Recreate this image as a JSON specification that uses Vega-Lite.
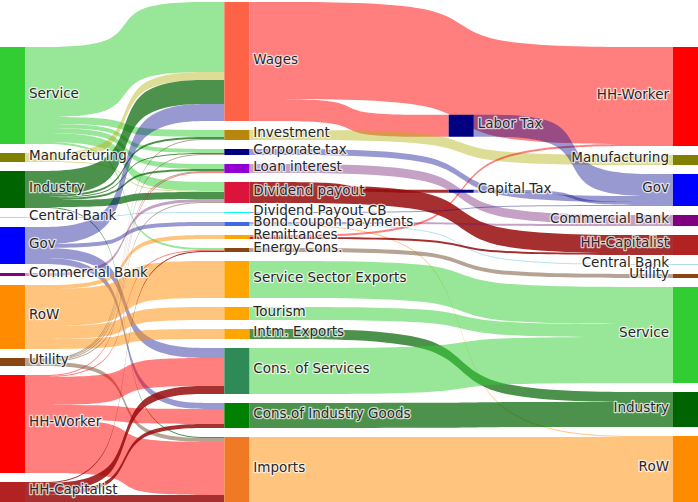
{
  "$schema": "https://vega.github.io/schema/vega-lite/v6.json",
  "width": 698,
  "height": 502,
  "padding": 0,
  "autosize": {"type": "none"},
  "config": {"view": {"stroke": null}},
  "data": {
    "values": [
      {"kind": "node", "id": "Service_0", "label": "Service", "stage": 0, "order": 0},
      {"kind": "node", "id": "Manufacturing_0", "label": "Manufacturing", "stage": 0, "order": 1},
      {"kind": "node", "id": "Industry_0", "label": "Industry", "stage": 0, "order": 2},
      {"kind": "node", "id": "Central Bank_0", "label": "Central Bank", "stage": 0, "order": 3},
      {"kind": "node", "id": "Gov_0", "label": "Gov", "stage": 0, "order": 4},
      {"kind": "node", "id": "Commercial Bank_0", "label": "Commercial Bank", "stage": 0, "order": 5},
      {"kind": "node", "id": "RoW_0", "label": "RoW", "stage": 0, "order": 6},
      {"kind": "node", "id": "Utility_0", "label": "Utility", "stage": 0, "order": 7},
      {"kind": "node", "id": "HH-Worker_0", "label": "HH-Worker", "stage": 0, "order": 8},
      {"kind": "node", "id": "HH-Capitalist_0", "label": "HH-Capitalist", "stage": 0, "order": 9},
      {"kind": "node", "id": "Wages", "label": "Wages", "stage": 1, "order": 0},
      {"kind": "node", "id": "Investment", "label": "Investment", "stage": 1, "order": 1},
      {"kind": "node", "id": "Corporate tax", "label": "Corporate tax", "stage": 1, "order": 2},
      {"kind": "node", "id": "Loan interest", "label": "Loan interest", "stage": 1, "order": 3},
      {"kind": "node", "id": "Dividend payout", "label": "Dividend payout", "stage": 1, "order": 4},
      {"kind": "node", "id": "Dividend Payout CB", "label": "Dividend Payout CB", "stage": 1, "order": 5},
      {"kind": "node", "id": "Bond coupon payments", "label": "Bond coupon payments", "stage": 1, "order": 6},
      {"kind": "node", "id": "Remittances", "label": "Remittances", "stage": 1, "order": 7},
      {"kind": "node", "id": "Energy Cons.", "label": "Energy Cons.", "stage": 1, "order": 8},
      {"kind": "node", "id": "Service Sector Exports", "label": "Service Sector Exports", "stage": 1, "order": 9},
      {"kind": "node", "id": "Tourism", "label": "Tourism", "stage": 1, "order": 10},
      {"kind": "node", "id": "Intm. Exports", "label": "Intm. Exports", "stage": 1, "order": 11},
      {"kind": "node", "id": "Cons. of Services", "label": "Cons. of Services", "stage": 1, "order": 12},
      {"kind": "node", "id": "Cons.of Industry Goods", "label": "Cons.of Industry Goods", "stage": 1, "order": 13},
      {"kind": "node", "id": "Imports", "label": "Imports", "stage": 1, "order": 14},
      {"kind": "node", "id": "Labor Tax", "label": "Labor Tax", "stage": 2, "order": 0},
      {"kind": "node", "id": "Capital Tax", "label": "Capital Tax", "stage": 2, "order": 1},
      {"kind": "node", "id": "HH-Worker_3", "label": "HH-Worker", "stage": 3, "order": 0},
      {"kind": "node", "id": "Manufacturing_3", "label": "Manufacturing", "stage": 3, "order": 1},
      {"kind": "node", "id": "Gov_3", "label": "Gov", "stage": 3, "order": 2},
      {"kind": "node", "id": "Commercial Bank_3", "label": "Commercial Bank", "stage": 3, "order": 3},
      {"kind": "node", "id": "HH-Capitalist_3", "label": "HH-Capitalist", "stage": 3, "order": 4},
      {"kind": "node", "id": "Central Bank_3", "label": "Central Bank", "stage": 3, "order": 5},
      {"kind": "node", "id": "Utility_3", "label": "Utility", "stage": 3, "order": 6},
      {"kind": "node", "id": "Service_3", "label": "Service", "stage": 3, "order": 7},
      {"kind": "node", "id": "Industry_3", "label": "Industry", "stage": 3, "order": 8},
      {"kind": "node", "id": "RoW_3", "label": "RoW", "stage": 3, "order": 9},

      {"kind": "link", "source": "Service_0", "target": "Wages", "value": 70, "agent": "Service"},
      {"kind": "link", "source": "Service_0", "target": "Investment", "value": 7, "agent": "Service"},
      {"kind": "link", "source": "Service_0", "target": "Corporate tax", "value": 4, "agent": "Service"},
      {"kind": "link", "source": "Service_0", "target": "Loan interest", "value": 5, "agent": "Service"},
      {"kind": "link", "source": "Service_0", "target": "Dividend payout", "value": 9, "agent": "Service"},
      {"kind": "link", "source": "Service_0", "target": "Energy Cons.", "value": 2, "agent": "Service"},
      {"kind": "link", "source": "Manufacturing_0", "target": "Wages", "value": 8, "agent": "Manufacturing"},
      {"kind": "link", "source": "Manufacturing_0", "target": "Dividend payout", "value": 1, "agent": "Manufacturing"},
      {"kind": "link", "source": "Industry_0", "target": "Wages", "value": 24, "agent": "Industry"},
      {"kind": "link", "source": "Industry_0", "target": "Investment", "value": 2, "agent": "Industry"},
      {"kind": "link", "source": "Industry_0", "target": "Corporate tax", "value": 1, "agent": "Industry"},
      {"kind": "link", "source": "Industry_0", "target": "Loan interest", "value": 2, "agent": "Industry"},
      {"kind": "link", "source": "Industry_0", "target": "Dividend payout", "value": 7, "agent": "Industry"},
      {"kind": "link", "source": "Industry_0", "target": "Imports", "value": 1, "agent": "Industry"},
      {"kind": "link", "source": "Central Bank_0", "target": "Dividend Payout CB", "value": 1, "agent": "Central Bank"},
      {"kind": "link", "source": "Gov_0", "target": "Wages", "value": 17, "agent": "Gov"},
      {"kind": "link", "source": "Gov_0", "target": "Bond coupon payments", "value": 4, "agent": "Gov"},
      {"kind": "link", "source": "Gov_0", "target": "Cons. of Services", "value": 10, "agent": "Gov"},
      {"kind": "link", "source": "Gov_0", "target": "Cons.of Industry Goods", "value": 6, "agent": "Gov"},
      {"kind": "link", "source": "Commercial Bank_0", "target": "Dividend payout", "value": 3, "agent": "Commercial Bank"},
      {"kind": "link", "source": "RoW_0", "target": "Remittances", "value": 4, "agent": "RoW"},
      {"kind": "link", "source": "RoW_0", "target": "Service Sector Exports", "value": 37, "agent": "RoW"},
      {"kind": "link", "source": "RoW_0", "target": "Tourism", "value": 13, "agent": "RoW"},
      {"kind": "link", "source": "RoW_0", "target": "Intm. Exports", "value": 10, "agent": "RoW"},
      {"kind": "link", "source": "Utility_0", "target": "Investment", "value": 1, "agent": "Utility"},
      {"kind": "link", "source": "Utility_0", "target": "Corporate tax", "value": 1, "agent": "Utility"},
      {"kind": "link", "source": "Utility_0", "target": "Loan interest", "value": 1, "agent": "Utility"},
      {"kind": "link", "source": "Utility_0", "target": "Dividend payout", "value": 1, "agent": "Utility"},
      {"kind": "link", "source": "Utility_0", "target": "Imports", "value": 4, "agent": "Utility"},
      {"kind": "link", "source": "HH-Worker_0", "target": "Loan interest", "value": 1, "agent": "HH-Worker"},
      {"kind": "link", "source": "HH-Worker_0", "target": "Energy Cons.", "value": 1, "agent": "HH-Worker"},
      {"kind": "link", "source": "HH-Worker_0", "target": "Cons. of Services", "value": 28, "agent": "HH-Worker"},
      {"kind": "link", "source": "HH-Worker_0", "target": "Cons.of Industry Goods", "value": 15, "agent": "HH-Worker"},
      {"kind": "link", "source": "HH-Worker_0", "target": "Imports", "value": 53, "agent": "HH-Worker"},
      {"kind": "link", "source": "HH-Capitalist_0", "target": "Energy Cons.", "value": 1, "agent": "HH-Capitalist"},
      {"kind": "link", "source": "HH-Capitalist_0", "target": "Cons. of Services", "value": 8, "agent": "HH-Capitalist"},
      {"kind": "link", "source": "HH-Capitalist_0", "target": "Cons.of Industry Goods", "value": 4, "agent": "HH-Capitalist"},
      {"kind": "link", "source": "HH-Capitalist_0", "target": "Imports", "value": 7, "agent": "HH-Capitalist"},

      {"kind": "link", "source": "Wages", "target": "HH-Worker_3", "value": 97, "agent": "HH-Worker"},
      {"kind": "link", "source": "Wages", "target": "Labor Tax", "value": 22, "agent": "HH-Worker"},
      {"kind": "link", "source": "Investment", "target": "Manufacturing_3", "value": 10, "agent": "Manufacturing"},
      {"kind": "link", "source": "Corporate tax", "target": "Gov_3", "value": 6, "agent": "Gov"},
      {"kind": "link", "source": "Loan interest", "target": "Commercial Bank_3", "value": 9, "agent": "Commercial Bank"},
      {"kind": "link", "source": "Dividend payout", "target": "Capital Tax", "value": 3, "agent": "HH-Capitalist"},
      {"kind": "link", "source": "Dividend payout", "target": "HH-Capitalist_3", "value": 18, "agent": "HH-Capitalist"},
      {"kind": "link", "source": "Dividend Payout CB", "target": "Gov_3", "value": 1, "agent": "Gov"},
      {"kind": "link", "source": "Bond coupon payments", "target": "Commercial Bank_3", "value": 2, "agent": "Commercial Bank"},
      {"kind": "link", "source": "Bond coupon payments", "target": "Central Bank_3", "value": 1, "agent": "Central Bank"},
      {"kind": "link", "source": "Bond coupon payments", "target": "RoW_3", "value": 1, "agent": "RoW"},
      {"kind": "link", "source": "Remittances", "target": "HH-Worker_3", "value": 2, "agent": "HH-Worker"},
      {"kind": "link", "source": "Remittances", "target": "HH-Capitalist_3", "value": 2, "agent": "HH-Capitalist"},
      {"kind": "link", "source": "Energy Cons.", "target": "Utility_3", "value": 4, "agent": "Utility"},
      {"kind": "link", "source": "Service Sector Exports", "target": "Service_3", "value": 37, "agent": "Service"},
      {"kind": "link", "source": "Tourism", "target": "Service_3", "value": 13, "agent": "Service"},
      {"kind": "link", "source": "Intm. Exports", "target": "Industry_3", "value": 10, "agent": "Industry"},
      {"kind": "link", "source": "Cons. of Services", "target": "Service_3", "value": 46, "agent": "Service"},
      {"kind": "link", "source": "Cons.of Industry Goods", "target": "Industry_3", "value": 25, "agent": "Industry"},
      {"kind": "link", "source": "Imports", "target": "RoW_3", "value": 65, "agent": "RoW"},
      {"kind": "link", "source": "Labor Tax", "target": "Gov_3", "value": 22, "agent": "Gov"},
      {"kind": "link", "source": "Capital Tax", "target": "Gov_3", "value": 3, "agent": "Gov"}
    ]
  },
  "transform": [
    {"calculate": "datum.kind === 'node' ? datum.id : datum.source", "as": "sKey"},
    {"calculate": "datum.kind === 'node' ? datum.id : datum.target", "as": "tKey"},
    {"joinaggregate": [{"op": "sum", "field": "value", "as": "outSum"}], "groupby": ["sKey"]},
    {"joinaggregate": [{"op": "sum", "field": "value", "as": "inSum"}], "groupby": ["tKey"]},
    {"calculate": "datum.kind === 'node' ? max(datum.outSum || 0, datum.inSum || 0) : null", "as": "total"},
    {"window": [{"op": "sum", "field": "total", "as": "cumBelow"}, {"op": "row_number", "as": "rn"}], "groupby": ["stage"], "sort": [{"field": "order", "order": "descending"}], "ignorePeers": true},
    {"calculate": "datum.kind === 'node' && datum.stage !== 2 ? 502 - datum.cumBelow - 9 * (datum.rn - 1) : null", "as": "top0"},
    {"joinaggregate": [{"op": "max", "field": "top0", "as": "sTop0"}, {"op": "max", "field": "total", "as": "sTotal"}, {"op": "max", "field": "stage", "as": "sStage"}], "groupby": ["sKey"]},
    {"joinaggregate": [{"op": "max", "field": "top0", "as": "tTop0"}, {"op": "max", "field": "total", "as": "tTotal"}, {"op": "max", "field": "stage", "as": "tStage"}], "groupby": ["tKey"]},
    {"calculate": "datum.kind === 'link' && isValid(datum.sTop0) ? datum.sTop0 + datum.sTotal / 2 : null", "as": "sC"},
    {"calculate": "datum.kind === 'link' && isValid(datum.tTop0) ? datum.tTop0 + datum.tTotal / 2 : null", "as": "tC"},
    {"joinaggregate": [{"op": "mean", "field": "sC", "as": "inMean"}], "groupby": ["tKey"]},
    {"joinaggregate": [{"op": "mean", "field": "tC", "as": "outMean"}], "groupby": ["sKey"]},
    {"calculate": "datum.kind === 'node' ? (datum.stage === 2 ? (datum.inMean + datum.outMean) / 2 - datum.total / 2 : datum.top0) : null", "as": "top"},
    {"joinaggregate": [{"op": "max", "field": "top", "as": "sTop"}], "groupby": ["sKey"]},
    {"joinaggregate": [{"op": "max", "field": "top", "as": "tTop"}], "groupby": ["tKey"]},
    {"window": [{"op": "sum", "field": "value", "as": "sCum"}], "groupby": ["source"], "sort": [{"field": "tTop", "order": "ascending"}], "ignorePeers": true},
    {"window": [{"op": "sum", "field": "value", "as": "tCum"}], "groupby": ["target"], "sort": [{"field": "sTop", "order": "ascending"}], "ignorePeers": true}
  ],
  "layer": [
    {
      "transform": [
        {"filter": "datum.kind === 'link'"},
        {"calculate": "datum.sStage + 0.1114", "as": "px0"},
        {"calculate": "datum.tStage", "as": "px3"},
        {"calculate": "(datum.px0 + datum.px3) / 2 - 0.0005", "as": "px1"},
        {"calculate": "(datum.px0 + datum.px3) / 2 + 0.0005", "as": "px2"},
        {"fold": ["px0", "px1", "px2", "px3"], "as": ["pt", "px"]},
        {"calculate": "(datum.pt === 'px0' || datum.pt === 'px1') ? datum.sTop + datum.sCum - datum.value : datum.tTop + datum.tCum - datum.value", "as": "ylo"},
        {"calculate": "datum.ylo + datum.value", "as": "yhi"}
      ],
      "mark": {"type": "area", "interpolate": "basis", "opacity": 1},
      "encoding": {
        "x": {"field": "px", "type": "quantitative", "scale": {"domain": [0, 3.1114], "nice": false, "zero": false}, "axis": null},
        "y": {"field": "ylo", "type": "quantitative", "scale": {"domain": [0, 502], "reverse": true, "nice": false, "zero": false}, "axis": null},
        "y2": {"field": "yhi"},
        "color": {
          "field": "agent", "type": "nominal", "legend": null,
          "scale": {
            "domain": ["Service", "Manufacturing", "Industry", "Central Bank", "Gov", "Commercial Bank", "RoW", "Utility", "HH-Worker", "HH-Capitalist"],
            "range": ["rgba(50,205,50,0.5)", "rgba(180,180,20,0.45)", "rgba(0,100,0,0.7)", "rgba(135,206,235,0.6)", "rgba(0,0,139,0.4)", "rgba(110,20,110,0.4)", "rgba(255,140,0,0.5)", "rgba(120,90,60,0.55)", "rgba(255,0,0,0.5)", "rgba(150,10,10,0.85)"]
          }
        },
        "detail": [{"field": "source", "type": "nominal"}, {"field": "target", "type": "nominal"}]
      }
    },
    {
      "transform": [
        {"filter": "datum.kind === 'node'"},
        {"calculate": "datum.stage + 0.1114", "as": "xr"},
        {"calculate": "datum.top + datum.total", "as": "bottom"}
      ],
      "mark": {"type": "rect"},
      "encoding": {
        "x": {"field": "stage", "type": "quantitative", "scale": {"domain": [0, 3.1114], "nice": false, "zero": false}, "axis": null},
        "x2": {"field": "xr"},
        "y": {"field": "top", "type": "quantitative", "scale": {"domain": [0, 502], "reverse": true, "nice": false, "zero": false}, "axis": null},
        "y2": {"field": "bottom"},
        "color": {
          "field": "label", "type": "nominal", "legend": null,
          "scale": {
            "domain": ["Service", "Manufacturing", "Industry", "Central Bank", "Gov", "Commercial Bank", "RoW", "Utility", "HH-Worker", "HH-Capitalist", "Wages", "Investment", "Corporate tax", "Loan interest", "Dividend payout", "Dividend Payout CB", "Bond coupon payments", "Remittances", "Energy Cons.", "Service Sector Exports", "Tourism", "Intm. Exports", "Cons. of Services", "Cons.of Industry Goods", "Imports", "Labor Tax", "Capital Tax"],
            "range": ["#32CD32", "#808000", "#006400", "#ADD8E6", "#0000FF", "#800080", "#FF8C00", "#8B4513", "#FF0000", "#B22222", "#FF6347", "#B8860B", "#000080", "#9400D3", "#DC143C", "#00FFFF", "#4169E1", "#FFA500", "#8B4513", "#FFA500", "#FFA500", "#FFA500", "#2E8B57", "#008000", "#F07A24", "#000080", "#000080"]
          }
        }
      }
    },
    {
      "transform": [
        {"filter": "datum.kind === 'node' && datum.stage !== 3"},
        {"calculate": "datum.stage + 0.1114", "as": "xr"},
        {"calculate": "datum.top + datum.total / 2", "as": "mid"}
      ],
      "mark": {"type": "text", "align": "left", "baseline": "middle", "dx": 4, "dy": -2, "font": "DejaVu Sans", "fontSize": 13.5, "fill": "white", "stroke": "white", "strokeWidth": 2.5, "strokeOpacity": 0.7, "strokeJoin": "round"},
      "encoding": {
        "x": {"field": "xr", "type": "quantitative", "scale": {"domain": [0, 3.1114], "nice": false, "zero": false}, "axis": null},
        "y": {"field": "mid", "type": "quantitative", "scale": {"domain": [0, 502], "reverse": true, "nice": false, "zero": false}, "axis": null},
        "text": {"field": "label"}
      }
    },
    {
      "transform": [
        {"filter": "datum.kind === 'node' && datum.stage !== 3"},
        {"calculate": "datum.stage + 0.1114", "as": "xr"},
        {"calculate": "datum.top + datum.total / 2", "as": "mid"}
      ],
      "mark": {"type": "text", "align": "left", "baseline": "middle", "dx": 4, "dy": -2, "font": "DejaVu Sans", "fontSize": 13.5, "fill": "#262626"},
      "encoding": {
        "x": {"field": "xr", "type": "quantitative", "scale": {"domain": [0, 3.1114], "nice": false, "zero": false}, "axis": null},
        "y": {"field": "mid", "type": "quantitative", "scale": {"domain": [0, 502], "reverse": true, "nice": false, "zero": false}, "axis": null},
        "text": {"field": "label"}
      }
    },
    {
      "transform": [
        {"filter": "datum.kind === 'node' && datum.stage === 3"},
        {"calculate": "datum.top + datum.total / 2", "as": "mid"}
      ],
      "mark": {"type": "text", "align": "right", "baseline": "middle", "dx": -4, "dy": -2, "font": "DejaVu Sans", "fontSize": 13.5, "fill": "white", "stroke": "white", "strokeWidth": 2.5, "strokeOpacity": 0.7, "strokeJoin": "round"},
      "encoding": {
        "x": {"field": "stage", "type": "quantitative", "scale": {"domain": [0, 3.1114], "nice": false, "zero": false}, "axis": null},
        "y": {"field": "mid", "type": "quantitative", "scale": {"domain": [0, 502], "reverse": true, "nice": false, "zero": false}, "axis": null},
        "text": {"field": "label"}
      }
    },
    {
      "transform": [
        {"filter": "datum.kind === 'node' && datum.stage === 3"},
        {"calculate": "datum.top + datum.total / 2", "as": "mid"}
      ],
      "mark": {"type": "text", "align": "right", "baseline": "middle", "dx": -4, "dy": -2, "font": "DejaVu Sans", "fontSize": 13.5, "fill": "#262626"},
      "encoding": {
        "x": {"field": "stage", "type": "quantitative", "scale": {"domain": [0, 3.1114], "nice": false, "zero": false}, "axis": null},
        "y": {"field": "mid", "type": "quantitative", "scale": {"domain": [0, 502], "reverse": true, "nice": false, "zero": false}, "axis": null},
        "text": {"field": "label"}
      }
    }
  ],
  "resolve": {"scale": {"color": "independent"}}
}
